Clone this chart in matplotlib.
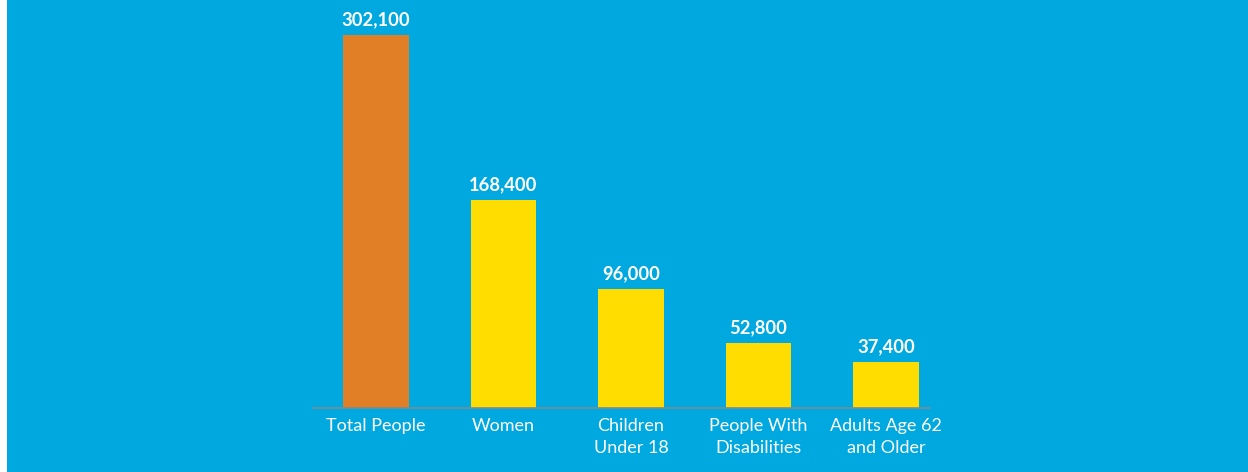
import matplotlib.pyplot as plt
import matplotlib.patches as patches

categories = ['Total People', 'Women', 'Children\nUnder 18', 'People With\nDisabilities', 'Adults Age 62\nand Older']
values = [302100, 168400, 96000, 52800, 37400]
colors = ['#E07F26', '#FFDD00', '#FFDD00', '#FFDD00', '#FFDD00']

bg = '#00A8E0'

fig = plt.figure(figsize=(12.48, 4.72), dpi=100, facecolor=bg)
# white strip at the left edge
fig.patches.append(patches.Rectangle((0, 0), 7 / 1248, 1, transform=fig.transFigure,
                                     facecolor='white', edgecolor='none', zorder=0))

ax = fig.add_axes([313 / 1248, 64 / 472, 617 / 1248, 373 / 472])
ax.set_facecolor(bg)

x = range(len(categories))
bars = ax.bar(x, values, width=0.51, color=colors, zorder=2)

ax.set_xlim(-0.494, 4.345)
ax.set_ylim(0, 302100)

for b, v in zip(bars, values):
    ax.text(b.get_x() + b.get_width() / 2, v + 5500, f'{v:,}', ha='center', va='bottom',
            color='white', fontsize=13.2, fontweight='bold', family='Lato', clip_on=False)

for s in ['top', 'right', 'left']:
    ax.spines[s].set_visible(False)
ax.spines['bottom'].set_color('#7F8A8F')
ax.spines['bottom'].set_linewidth(1.2)

ax.set_yticks([])
ax.set_xticks(list(x))
ax.set_xticklabels(categories, color='white', fontsize=13, family='Lato', linespacing=1.5)
ax.tick_params(axis='x', length=0, pad=7)

fig.savefig('out.png', dpi=100, facecolor=bg)
